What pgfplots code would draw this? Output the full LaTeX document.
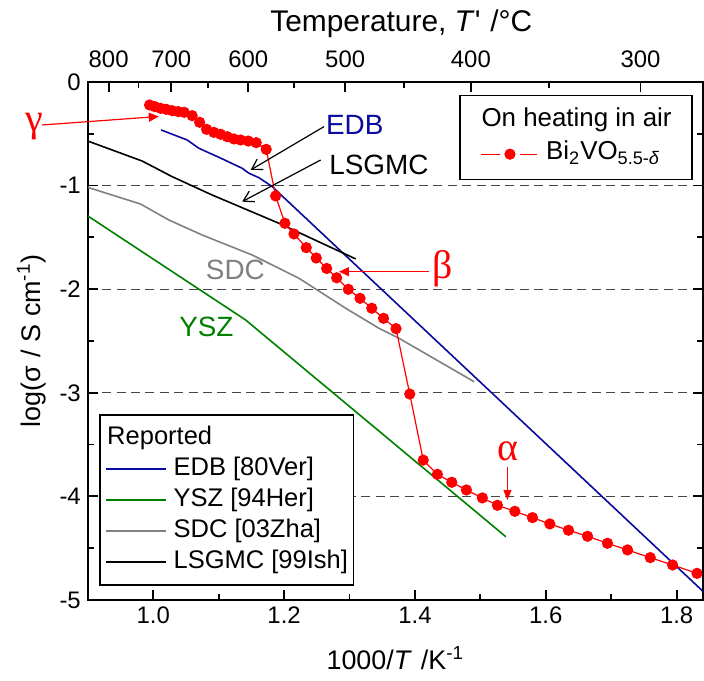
\documentclass[border=0pt]{standalone}
\usepackage{fontspec}
\setmainfont{Liberation Sans}
\newfontfamily\greekfont{Liberation Serif}
\usepackage{pgfplots}
\pgfplotsset{compat=1.18}
\usetikzlibrary{arrows.meta}
\definecolor{edb}{RGB}{10,10,160}
\definecolor{ysz}{RGB}{0,128,0}
\definecolor{sdc}{RGB}{128,128,128}
\definecolor{gridc}{RGB}{70,70,70}
\pgfplotsset{
  common/.style={width=307.5bp,height=259bp,scale only axis,
    xmin=0.9,xmax=1.84,ymin=-5,ymax=0,
    tick align=inside, major tick length=5bp, minor tick length=3bp,
    tick style={line width=0.9bp,black},
    axis line style={line width=1.1bp},
    tick label style={font=\fontsize{12}{14}\selectfont},
    label style={font=\fontsize{13.5}{16}\selectfont}},
}
\begin{document}
\begin{tikzpicture}
\begin{axis}[common,
  xtick={1.0,1.2,1.4,1.6,1.8}, xticklabels={1.0,1.2,1.4,1.6,1.8},
  minor xtick={1.1,1.3,1.5,1.7},
  xtick pos=left,
  ytick={-5,-4,-3,-2,-1,0}, yticklabels={-5,-4,-3,-2,-1,0},
  minor ytick={-4.5,-3.5,-2.5,-1.5,-0.5},
  ymajorgrids,
  major grid style={gridc, line width=0.6bp, dash pattern=on 4.5bp off 2.7bp},
  xlabel={1000/\textit{T}\,\,/K\textsuperscript{-1}},
  xlabel style={yshift=-4.5bp},
  ylabel={log(σ\,\,/ S cm\textsuperscript{-1})},
  legend cell align=left,
  legend style={at={(0.019,0.027)}, anchor=south west, draw=black, line width=0.75bp,
    inner xsep=2.7bp, inner ysep=5bp, row sep=2.5bp, column sep=3.2bp,
    nodes={inner sep=0pt, text height=9.5bp, text depth=3.5bp,
      font=\fontsize{12.8}{15}\selectfont}},
  legend image code/.code={\draw[#1] (0bp,0bp) -- (30bp,0bp);},
]
\coordinate (SW) at (rel axis cs:0,0);
\coordinate (NE) at (rel axis cs:1,1);
\addlegendimage{empty legend}
\addlegendentry{\hspace*{-33.2bp}Reported}
\addplot[edb, line width=0.8bp] coordinates {
 (1.0121,-0.463) (1.0519,-0.560) (1.0698,-0.640) (1.1004,-0.727) (1.1360,-0.833)
 (1.1463,-0.881) (1.1616,-0.924) (1.1819,-1.010) (1.84,-4.915)};
\addlegendentry{EDB [80Ver]}
\addplot[ysz, line width=0.8bp] coordinates {
 (0.9,-1.293) (1.1412,-2.297) (1.5389,-4.389)};
\addlegendentry{YSZ [94Her]}
\addplot[sdc, line width=0.8bp] coordinates {
 (0.9,-1.017) (0.9806,-1.178) (1.0239,-1.332) (1.0748,-1.477) (1.1513,-1.670)
 (1.2228,-1.895) (1.2942,-2.184) (1.3451,-2.378) (1.3757,-2.474) (1.4904,-2.893)};
\addlegendentry{SDC [03Zha]}
\addplot[black, line width=0.8bp] coordinates {
 (0.9,-0.570) (0.9831,-0.763) (1.029,-0.914) (1.0901,-1.091) (1.1922,-1.364) (1.3095,-1.708)};
\addlegendentry{LSGMC [99Ish]}
\end{axis}
\begin{axis}[common, axis x line*=top, axis y line=none, clip=false,
  xtick={0.93183,1.02759,1.14528,1.29341,1.48555,1.74474},
  xticklabels={800,700,600,500,400,300},
  minor xtick={0.97738,1.08325,1.21485,1.38284,1.60475},
  xticklabel style={yshift=3.5bp},
  xlabel={Temperature, \textit{T}\textquotesingle\,\,/°C},
  xlabel style={font=\fontsize{15}{18}\selectfont, yshift=0bp, xshift=3bp},
  legend cell align=left,
  legend style={at={(0.9837,0.975)}, anchor=north east, draw=black, line width=0.75bp,
    inner xsep=10.2bp, inner ysep=6bp, row sep=3bp, column sep=4.3bp,
    nodes={inner sep=0pt, text height=9.5bp, text depth=4bp,
      font=\fontsize{13}{15}\selectfont}},
  legend image code/.code={
    \draw[#1,mark=none] (0bp,0bp) -- (9.5bp,0bp) (19.5bp,0bp) -- (28bp,0bp);
    \draw[#1] plot coordinates {(14.5bp,0bp)};},
]
\addlegendimage{empty legend}
\addlegendentry{\hspace*{-32.3bp}On heating in air}
\addplot[red, line width=0.6bp, mark=*, mark size=2.5bp, mark options={solid, fill=red, draw=red}] coordinates {
 (0.9944,-0.222) (1.0025,-0.238) (1.0112,-0.254) (1.0198,-0.264) (1.0290,-0.277)
 (1.0381,-0.286) (1.0473,-0.293) (1.0595,-0.325) (1.0709,-0.389) (1.0816,-0.457)
 (1.0927,-0.486) (1.1030,-0.505) (1.1131,-0.528) (1.1233,-0.550) (1.1336,-0.560)
 (1.1452,-0.570) (1.1574,-0.586) (1.1727,-0.650) (1.1871,-1.100) (1.2013,-1.364)
 (1.2151,-1.467) (1.2339,-1.599) (1.2492,-1.699) (1.2651,-1.800) (1.2804,-1.890)
 (1.2982,-2.001) (1.3161,-2.088) (1.3340,-2.184) (1.3520,-2.281) (1.3711,-2.381)
 (1.3921,-3.012) (1.4127,-3.650) (1.4343,-3.787) (1.4563,-3.864) (1.4787,-3.938)
 (1.5031,-4.015) (1.5261,-4.086) (1.5527,-4.144) (1.5796,-4.205) (1.6062,-4.266)
 (1.6347,-4.327) (1.6638,-4.385) (1.6943,-4.453) (1.7249,-4.517) (1.7597,-4.591)
 (1.7938,-4.662) (1.8311,-4.743)};
\addlegendentry{Bi\textsubscript{2}VO\textsubscript{5.5-\textit{δ}}}
% annotations
\node[red, font=\greekfont\fontsize{20}{24}\selectfont, inner sep=0pt] at (axis cs:0.8175,-0.434) {γ};
\draw[red, line width=0.6bp, -{Triangle[length=5bp,width=4.5bp]}] (axis cs:0.8301,-0.415) -- (axis cs:1.0086,-0.333);
\node[red, font=\greekfont\fontsize{20}{24}\selectfont, inner sep=0pt] at (axis cs:1.442,-1.80) {β};
\draw[red, line width=0.6bp, -{Triangle[length=5bp,width=4.5bp]}] (axis cs:1.4216,-1.831) -- (axis cs:1.2839,-1.831);
\node[red, font=\greekfont\fontsize{20}{24}\selectfont, inner sep=0pt] at (axis cs:1.542,-3.568) {α};
\draw[red, line width=0.6bp, -{Triangle[length=5bp,width=4bp]}] (axis cs:1.5414,-3.713) -- (axis cs:1.5414,-4.035);
\node[edb, anchor=west, inner sep=0pt, font=\fontsize{14}{16}\selectfont] at (axis cs:1.2636,-0.415) {EDB};
\draw[black, line width=0.6bp, -{Straight Barb[length=5bp,width=6bp]}] (axis cs:1.2610,-0.431) -- (axis cs:1.1489,-0.849);
\node[black, anchor=west, inner sep=0pt, font=\fontsize{14}{16}\selectfont] at (axis cs:1.2686,-0.801) {LSGMC};
\draw[black, line width=0.6bp, -{Straight Barb[length=5bp,width=6bp]}] (axis cs:1.2559,-0.753) -- (axis cs:1.136,-1.155);
\node[sdc, anchor=west, inner sep=0pt, font=\fontsize{14}{16}\selectfont] at (axis cs:1.08,-1.815) {SDC};
\node[ysz, anchor=west, inner sep=0pt, font=\fontsize{14}{16}\selectfont] at (axis cs:1.0392,-2.362) {YSZ};
\end{axis}
\pgfresetboundingbox
\path ([shift={(-43.9bp,-40.5bp)}]SW) rectangle ([shift={(0.6bp,41bp)}]NE);
\end{tikzpicture}
\end{document}
